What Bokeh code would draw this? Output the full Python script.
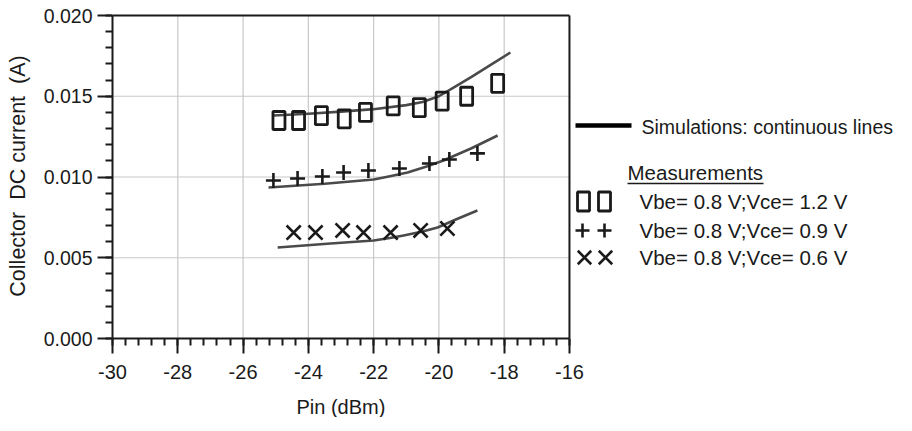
from bokeh.plotting import figure
from bokeh.models import Range1d, FixedTicker, NumeralTickFormatter, PrintfTickFormatter, Title
from bokeh.embed import file_html
from bokeh.resources import INLINE
from bokeh.core.properties import value

# ---------------- data ----------------
# Measurements, Vbe = 0.8 V
pin_vce12 = [-24.9, -24.3, -23.6, -22.9, -22.25, -21.4, -20.6, -19.9, -19.15, -18.2]
ic_vce12 = [0.0135, 0.0135, 0.0138, 0.0136, 0.0140, 0.0144, 0.0143, 0.0147, 0.0150, 0.0158]

pin_vce09 = [-25.07, -24.33, -23.57, -22.92, -22.16, -21.21, -20.29, -19.68, -18.82]
ic_vce09 = [0.00978, 0.00991, 0.01003, 0.01028, 0.0104, 0.01053, 0.01084, 0.01108, 0.01146]

pin_vce06 = [-24.45, -23.78, -22.95, -22.31, -21.48, -20.56, -19.74]
ic_vce06 = [0.00656, 0.00656, 0.00669, 0.00656, 0.00656, 0.00669, 0.00681]

# Simulations (continuous lines)
sim_pin_vce12 = [-25.07, -24.0, -23.0, -22.0, -21.0, -20.5, -20.0, -19.5, -19.0, -18.5, -17.81]
sim_ic_vce12 = [0.01381, 0.01392, 0.01405, 0.01420, 0.01445, 0.01465, 0.01500, 0.01560, 0.01620,
                0.01683, 0.01771]

sim_pin_vce09 = [-25.22, -23.5, -22.0, -21.5, -20.96, -20.4, -19.86, -19.0, -18.2]
sim_ic_vce09 = [0.00935, 0.00958, 0.00985, 0.01005, 0.01028, 0.01063, 0.01102, 0.01178, 0.01257]

sim_pin_vce06 = [-24.94, -23.32, -22.0, -21.5, -21.08, -20.5, -20.04, -19.5, -18.82]
sim_ic_vce06 = [0.00563, 0.00588, 0.00607, 0.00622, 0.00638, 0.00662, 0.00687, 0.00735, 0.00793]

x_ticks = [-30, -28, -26, -24, -22, -20, -18, -16]
y_ticks = [0.000, 0.005, 0.010, 0.015, 0.020]

legend_sim_text = "Simulations: continuous lines"
legend_meas_title = "Measurements"
legend_labels = ["Vbe= 0.8 V;Vce= 1.2 V", "Vbe= 0.8 V;Vce= 0.9 V", "Vbe= 0.8 V;Vce= 0.6 V"]

x_label = "Pin (dBm)"
y_label = "Collector\u00a0\u00a0DC current\u00a0\u00a0(A)"

# ---------------- layout / style ----------------
FONT = "Liberation Sans"
INK = "#1a1a1a"
SIM = "#4a4a4a"
GRID = "#c8c8c8"

W, H = 896, 415
ORIG_X, ORIG_Y = 112, 338   # canvas px of (-30, 0)
TOP_Y = 15                  # canvas px of 0.020
HEAD = 2                    # px headroom above 0.020
FRAME_LEFT = ORIG_X
FRAME_TOP = TOP_Y - HEAD
FRAME_W = W - FRAME_LEFT
PLOT_H = ORIG_Y - TOP_Y
FRAME_H = PLOT_H + HEAD
BOTTOM = H - FRAME_TOP - FRAME_H

X0, X1 = x_ticks[0], x_ticks[-1]
Y0, Y1 = y_ticks[0], y_ticks[-1]
PX_PER_X = 32.64
PX_PER_Y = PLOT_H / (Y1 - Y0)
x_end = X0 + FRAME_W / PX_PER_X
y_end = Y1 + HEAD / PX_PER_Y


def fx(px):
    return X0 + (px - ORIG_X) / PX_PER_X


def fy(py):
    return (ORIG_Y - py) / PX_PER_Y


p = figure(frame_width=FRAME_W, frame_height=FRAME_H,
           x_range=Range1d(X0, x_end), y_range=Range1d(Y0, y_end),
           min_border_left=FRAME_LEFT, min_border_right=0,
           min_border_top=FRAME_TOP, min_border_bottom=BOTTOM,
           output_backend="svg", toolbar_location=None,
           outline_line_color=None, background_fill_color="white",
           border_fill_color="white")
p.grid.visible = False

# grid lines (kept inside the -30..-16 box)
vx = x_ticks[1:-1]
p.segment(x0=vx, y0=[Y0] * len(vx), x1=vx, y1=[Y1] * len(vx), line_color=GRID, line_width=1.2)
hy = y_ticks[1:-1]
p.segment(x0=[X0] * len(hy), y0=hy, x1=[X1] * len(hy), y1=hy, line_color=GRID, line_width=1.2)

# box top / right borders
p.segment(x0=[X0, X1], y0=[Y1, Y0], x1=[X1, X1], y1=[Y1, Y1], line_color=INK, line_width=2)

# simulations
for xs, ys in [(sim_pin_vce12, sim_ic_vce12), (sim_pin_vce09, sim_ic_vce09), (sim_pin_vce06, sim_ic_vce06)]:
    p.line(xs, ys, line_color=SIM, line_width=2.6, line_join="round")

# measurements
p.rect(pin_vce12, ic_vce12, width=12, height=18, width_units="screen", height_units="screen",
       fill_color=None, line_color=INK, line_width=2.8)
p.scatter(pin_vce09, ic_vce09, marker="cross", size=15, line_color=INK, line_width=2.6)
p.scatter(pin_vce06, ic_vce06, marker="x", size=20, line_color=INK, line_width=2.6)

# axes
xa = p.xaxis[0]
xa.bounds = (X0, X1)
minor_x = [X0 + 0.4 * i for i in range(int(round((X1 - X0) / 0.4)) + 1)]
xa.ticker = FixedTicker(ticks=x_ticks, minor_ticks=minor_x)
xa.formatter = PrintfTickFormatter(format="%d")
ya = p.yaxis[0]
ya.bounds = (Y0, Y1)
minor_y = [Y0 + 0.001 * i for i in range(21)]
ya.ticker = FixedTicker(ticks=y_ticks, minor_ticks=minor_y)
ya.formatter = NumeralTickFormatter(format="0.000")

for ax in (xa, ya):
    ax.axis_line_color = INK
    ax.axis_line_width = 2
    ax.major_tick_line_color = INK
    ax.major_tick_line_width = 2
    ax.minor_tick_line_color = INK
    ax.minor_tick_line_width = 2
    ax.major_tick_out = 15
    ax.major_tick_in = 0
    ax.minor_tick_out = 7
    ax.minor_tick_in = 0
    ax.major_label_text_font = FONT
    ax.major_label_text_color = INK
    ax.axis_label_text_font = FONT
    ax.axis_label_text_font_style = "normal"
    ax.axis_label_text_color = INK

xa.major_label_text_font_size = "20px"
xa.major_label_standoff = 11

ya.major_label_text_font_size = "19.5px"
ya.major_label_standoff = 5
ya.axis_label = y_label
ya.axis_label_text_font_size = "21.5px"
ya.axis_label_standoff = 11

# spacer between tick labels and the x title
p.add_layout(Title(text="\u00a0", text_font_size="9px", standoff=0), "below")

# x axis title, centred under the -30..-16 box (placed in the panel below the axis)
X_TITLE_W = 89  # approx. text width in px at 20px
x_title = Title(text=x_label, align="left",
                offset=(X1 - X0) * PX_PER_X / 2 - X_TITLE_W / 2,
                text_font=FONT, text_font_size="20px", text_font_style="normal",
                text_color=INK, standoff=0)
p.add_layout(x_title, "below")

# ---------------- legend (outside the -30..-16 box) ----------------
TXT = dict(text_font=value(FONT), text_font_size="20.5px", text_baseline="middle",
           text_align="left", text_color=INK)

p.line([fx(575), fx(631)], [fy(125), fy(125)], line_color="black", line_width=4.5)
p.text(x=[fx(641)], y=[fy(126)], text=[legend_sim_text],
       **{**TXT, "text_font_size": "19.5px"})

p.text(x=[fx(627)], y=[fy(172)], text=[legend_meas_title], **TXT)
p.line([fx(627), fx(763)], [fy(183), fy(183)], line_color=INK, line_width=1.5)

row_y = [fy(201), fy(230), fy(257)]
p.rect([fx(583), fx(604)], [row_y[0]] * 2, width=12, height=19, width_units="screen",
       height_units="screen", fill_color=None, line_color=INK, line_width=2.8)
p.scatter([fx(582), fx(604)], [row_y[1]] * 2, marker="cross", size=14, line_color=INK, line_width=2.6)
p.scatter([fx(584), fx(605)], [row_y[2]] * 2, marker="x", size=19, line_color=INK, line_width=2.6)
p.text(x=[fx(639)] * 3, y=row_y, text=legend_labels, **TXT)

open("out.html", "w").write(file_html(p, INLINE))
